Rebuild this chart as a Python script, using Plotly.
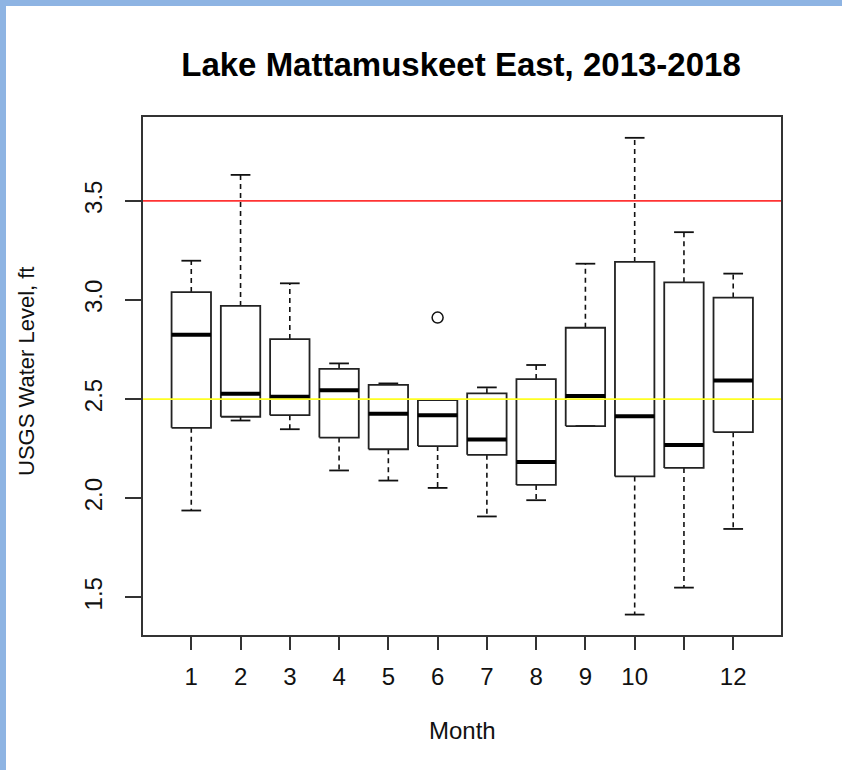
import plotly.graph_objects as go

# ---------------- data ----------------
months = [1, 2, 3, 4, 5, 6, 7, 8, 9, 10, 11, 12]
upper_whisker = [3.198, 3.631, 3.084, 2.680, 2.579, 2.495, 2.559, 2.672, 3.183, 3.818, 3.342, 3.133]
q3_values     = [3.040, 2.970, 2.803, 2.652, 2.572, 2.495, 2.529, 2.601, 2.860, 3.192, 3.089, 3.012]
median_values = [2.825, 2.527, 2.512, 2.544, 2.426, 2.419, 2.296, 2.183, 2.515, 2.414, 2.269, 2.594]
q1_values     = [2.355, 2.411, 2.419, 2.306, 2.247, 2.263, 2.219, 2.067, 2.364, 2.110, 2.153, 2.333]
lower_whisker = [1.938, 2.392, 2.348, 2.140, 2.089, 2.052, 1.908, 1.990, 2.364, 1.413, 1.549, 1.845]
outlier_months = [6]
outlier_values = [2.911]
x_tick_labels = ["1", "2", "3", "4", "5", "6", "7", "8", "9", "10", "", "12"]
y_tick_values = [1.5, 2.0, 2.5, 3.0, 3.5]
y_tick_labels = ["1.5", "2.0", "2.5", "3.0", "3.5"]
red_level = 3.5
yellow_level = 2.5

# ---------------- layout geometry ----------------
FIG_W, FIG_H = 842, 770
M_L, M_R, M_T, M_B = 143, 61, 117, 135
PW = FIG_W - M_L - M_R
PH = FIG_H - M_T - M_B


def px_x(px):
    return (px - M_L) / PW


def px_y(py):
    return (FIG_H - M_B - py) / PH


BOX_HALF = 0.4
STAPLE_HALF = 0.2
FONT = "Liberation Sans, Arial, sans-serif"

# build geometry from data
box_x, box_y = [], []
med_x, med_y = [], []
wh_x, wh_y = [], []
st_x, st_y = [], []
for m, lo, a, md, b, hi in zip(months, lower_whisker, q1_values, median_values, q3_values, upper_whisker):
    box_x += [m - BOX_HALF, m + BOX_HALF, m + BOX_HALF, m - BOX_HALF, m - BOX_HALF, None]
    box_y += [a, a, b, b, a, None]
    med_x += [m - BOX_HALF, m + BOX_HALF, None]
    med_y += [md, md, None]
    wh_x += [m, m, None, m, m, None]
    wh_y += [b, hi, None, a, lo, None]
    st_x += [m - STAPLE_HALF, m + STAPLE_HALF, None, m - STAPLE_HALF, m + STAPLE_HALF, None]
    st_y += [hi, hi, None, lo, lo, None]

fig = go.Figure()
fig.add_trace(go.Scatter(x=wh_x, y=wh_y, mode="lines",
                         line=dict(color="#111111", width=1.6, dash="5px,4px"),
                         hoverinfo="skip", showlegend=False))
fig.add_trace(go.Scatter(x=st_x, y=st_y, mode="lines",
                         line=dict(color="#111111", width=1.8),
                         hoverinfo="skip", showlegend=False))
fig.add_trace(go.Scatter(x=box_x, y=box_y, mode="lines",
                         line=dict(color="#222222", width=1.8),
                         hoverinfo="skip", showlegend=False))
fig.add_trace(go.Scatter(x=med_x, y=med_y, mode="lines",
                         line=dict(color="#000000", width=4),
                         hoverinfo="skip", showlegend=False))
fig.add_trace(go.Scatter(x=outlier_months, y=outlier_values, mode="markers",
                         marker=dict(symbol="circle-open", size=11, color="#111111",
                                     line=dict(width=1.5)),
                         hoverinfo="skip", showlegend=False))

# reference lines (abline)
fig.add_shape(type="line", xref="paper", yref="y", x0=0, x1=1, y0=red_level, y1=red_level,
              line=dict(color="#FF3333", width=1.7), layer="above")
fig.add_shape(type="line", xref="paper", yref="y", x0=0, x1=1, y0=yellow_level, y1=yellow_level,
              line=dict(color="#FFFF22", width=1.7), layer="above")

# page background: light-blue strip at top and left edge
fig.add_shape(type="rect", xref="paper", yref="paper",
              x0=px_x(6), x1=px_x(FIG_W + 5), y0=px_y(FIG_H + 5), y1=px_y(6),
              fillcolor="white", line=dict(width=0), layer="below")

fig.update_layout(
    width=FIG_W, height=FIG_H,
    margin=dict(l=M_L, r=M_R, t=M_T, b=M_B, pad=0),
    paper_bgcolor="#8EB4E3",
    plot_bgcolor="rgba(0,0,0,0)",
    font=dict(family=FONT, color="#111111"),
    title=dict(text="<b>Lake Mattamuskeet East, 2013-2018</b>",
               x=461 / FIG_W, xanchor="center",
               y=1 - 64 / FIG_H, yanchor="middle", yref="container",
               font=dict(size=33, family=FONT, color="#000000")),
    xaxis=dict(range=[0.02, 12.97], tickvals=months, ticktext=x_tick_labels,
               showgrid=False, zeroline=False, showline=True, mirror=True,
               linecolor="#333333", linewidth=1.8,
               ticks="outside", ticklen=13, tickwidth=1.6, tickcolor="#333333",
               ticklabelstandoff=6,
               tickfont=dict(size=24, family=FONT, color="#111111")),
    yaxis=dict(range=[1.31, 3.923], tickvals=y_tick_values, ticktext=y_tick_labels,
               showgrid=False, zeroline=False, showline=True, mirror=True,
               linecolor="#333333", linewidth=1.8,
               ticks="outside", ticklen=16, tickwidth=1.6, tickcolor="#333333",
               tickangle=-90, ticklabelstandoff=14,
               tickfont=dict(size=24, family=FONT, color="#111111")),
    annotations=[
        dict(text="Month", xref="paper", yref="paper", x=0.5, y=px_y(730),
             xanchor="center", yanchor="middle", showarrow=False,
             font=dict(size=24, family=FONT, color="#111111")),
        dict(text="USGS Water Level, ft", xref="paper", yref="paper",
             x=px_x(26), y=px_y(371), textangle=-90,
             xanchor="center", yanchor="middle", showarrow=False,
             font=dict(size=22, family=FONT, color="#111111")),
    ],
)

fig.write_html("out.html",
               config={"displayModeBar": False},
               post_script="document.body.style.margin='0';document.body.style.padding='0';")
